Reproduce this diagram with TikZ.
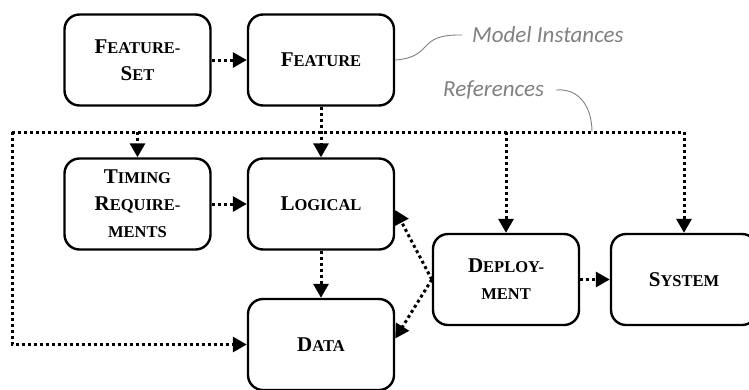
\documentclass[tikz,border=0pt]{standalone}
\usepackage{fontspec}
\setmainfont{Liberation Serif}
\newfontfamily\annfont{Carlito}
\usetikzlibrary{arrows.meta}
\newcommand\mysc[2]{{\fontsize{21}{27}\selectfont #1}{\fontsize{16.5}{27}\selectfont #2}}
\tikzset{
  box/.style={draw, line width=2.4pt, rounded corners=15pt, minimum width=146pt, minimum height=91pt,
    align=center, font=\fontsize{16.5}{27}\selectfont\bfseries, inner sep=0pt},
  dotline/.style={line width=3pt, dash pattern=on 3pt off 3pt},
  arr/.style={dotline, -{Triangle[length=14pt,width=15pt]}},
  ann/.style={text=black!50, font=\annfont\itshape\fontsize{23}{27}\selectfont, inner sep=0pt, anchor=west},
  annline/.style={draw=black!50, line width=0.9pt}
}
\begin{document}
\begin{tikzpicture}[x=1pt,y=-1pt]
\useasboundingbox (0,0) rectangle (749,389);
\node[box] (fs) at (137.5,60) {\mysc{F}{EATURE-}\\\mysc{S}{ET}};
\node[box] (f) at (321,60) {\mysc{F}{EATURE}};
\node[box] (t) at (137.5,204) {\mysc{T}{IMING}\\\mysc{R}{EQUIRE-}\\{\fontsize{16.5}{27}\selectfont MENTS}};
\node[box] (l) at (321,204) {\mysc{L}{OGICAL}};
\node[box] (d) at (321,344.5) {\mysc{D}{ATA}};
\node[box] (dep) at (506,279.5) {\mysc{D}{EPLOY-}\\{\fontsize{16.5}{27}\selectfont MENT}};
\node[box] (sys) at (684,279.5) {\mysc{S}{YSTEM}};
\coordinate (busL) at (12,132);
\coordinate (busR) at (684,132);
\coordinate (busB) at (12,344.5);
% bus
\draw[dotline] (busL) -- (busR);
\draw[arr] (busL) -- (busB) -- (d.west);
\draw[arr] (t.north |- busL) -- (t.north);
\draw[arr] (dep.north |- busL) -- (dep.north);
\draw[arr] (busR) -- (sys.north);
% other connectors
\draw[arr] (fs) -- (f);
\draw[arr] (f.south) -- (l.north);
\draw[arr] (t) -- (l);
\draw[arr] (l.south) -- (d.north);
\draw[arr] (dep) -- (sys);
\draw[arr] (dep.west) -- ([yshift=-6pt]l.east);
\draw[arr] (dep.west) -- ([yshift=6pt]d.east);
% annotations
\node[ann] (mi) at (472,35) {Model Instances};
\node[ann] (ref) at (443,90) {References};
\coordinate (busA) at (592,132);
\draw[annline] (f.east) .. controls (435,57) and (415,34) .. ([xshift=-10pt]mi.west);
\draw[annline] ([xshift=12pt]ref.east) .. controls (580,88) and (592,108) .. (busA);
\end{tikzpicture}
\end{document}
